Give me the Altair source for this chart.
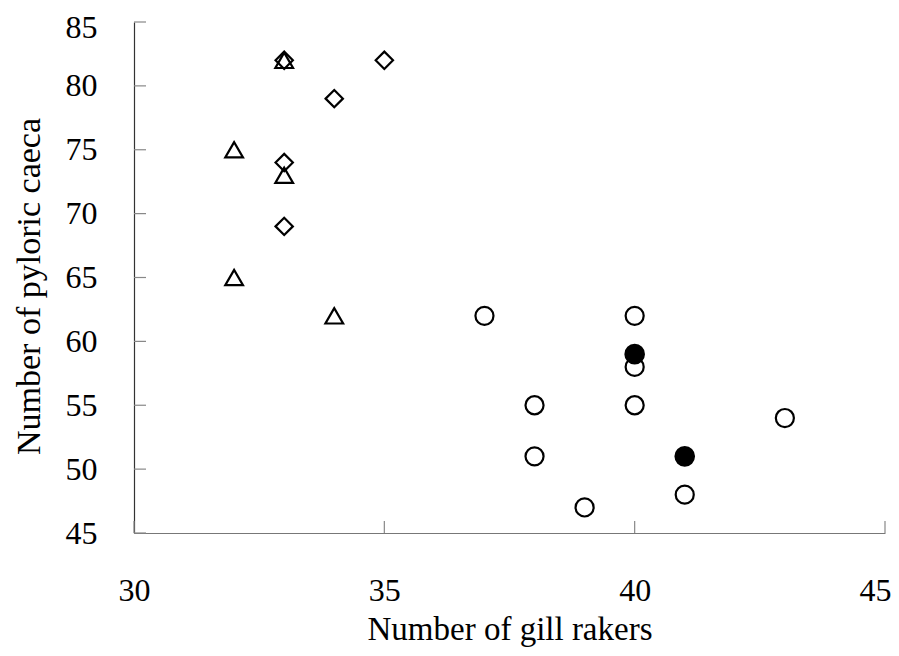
import altair as alt
import pandas as pd

# Data
diamond_x = [33, 35, 34, 33, 33]
diamond_y = [82, 82, 79, 74, 69]
triangle_x = [33, 32, 33, 32, 34]
triangle_y = [82, 75, 73, 65, 62]
open_x = [37, 40, 40, 38, 40, 43, 38, 41, 39]
open_y = [62, 62, 58, 55, 55, 54, 51, 48, 47]
filled_x = [40, 41]
filled_y = [59, 51]
x_ticks = [30, 35, 40, 45]
y_ticks = [45, 50, 55, 60, 65, 70, 75, 80, 85]
groups = ["diamond", "triangle", "open", "filled"]

rows = []
for g, xs, ys in [("diamond", diamond_x, diamond_y),
                  ("triangle", triangle_x, triangle_y),
                  ("open", open_x, open_y),
                  ("filled", filled_x, filled_y)]:
    for a, b in zip(xs, ys):
        rows.append({"x": a, "y": b, "group": g})
df = pd.DataFrame(rows)

FONT = "Liberation Serif"
xscale = alt.Scale(domain=[30, 45], nice=False, zero=False)
yscale = alt.Scale(domain=[45, 85], nice=False, zero=False)

xaxis = alt.Axis(
    values=x_ticks, ticks=False, tickSize=0, labelPadding=42, grid=False,
    labelFlush=False, labelOffset={"expr": "datum.value == 45 ? -10 : 0"},
    title="Number of gill rakers", titleY=106, titleFontSize=33,
    titleBaseline="alphabetic", domainColor="#777777", domainWidth=1.2)
yaxis = alt.Axis(
    values=y_ticks, ticks=False, tickSize=0, labelPadding=37, grid=False,
    labelFlush=False, labelOffset={"expr": "datum.value == 85 ? 5 : 0"},
    title="Number of pyloric caeca", titleX=-95, titleY=264, titleFontSize=34,
    titleBaseline="alphabetic", domainColor="#333333", domainWidth=1.2)

points = alt.Chart(df).mark_point(strokeWidth=2.2, opacity=1).encode(
    x=alt.X("x:Q", scale=xscale, axis=xaxis),
    y=alt.Y("y:Q", scale=yscale, axis=yaxis),
    shape=alt.Shape("group:N", scale=alt.Scale(domain=groups,
                    range=["diamond", "triangle-up", "circle", "circle"]), legend=None),
    size=alt.Size("group:N", scale=alt.Scale(domain=groups, range=[300, 340, 324, 324]),
                  legend=None),
    fill=alt.Fill("group:N", scale=alt.Scale(domain=groups,
                  range=["transparent", "transparent", "transparent", "black"]), legend=None),
    stroke=alt.value("black"),
)

xt = pd.DataFrame({"v": x_ticks})
yt = pd.DataFrame({"v": y_ticks})

xtick_rules = alt.Chart(xt).mark_rule(color="#888888", strokeWidth=1.2).encode(
    x=alt.X("v:Q", scale=xscale, axis=xaxis),
    y=alt.value(511), y2=alt.value(499),
)
ytick_rules = alt.Chart(yt).mark_rule(color="#888888", strokeWidth=1.2).encode(
    y=alt.Y("v:Q", scale=yscale, axis=yaxis),
    x=alt.value(0), x2=alt.value(12),
)

chart = alt.layer(points, xtick_rules, ytick_rules).properties(
    width=751, height=511,
    autosize=alt.AutoSizeParams(type="none"),
    padding={"left": 126, "top": 14, "right": 6, "bottom": 115},
).configure_axis(
    labelFont=FONT, labelFontSize=32, labelColor="black",
    titleFont=FONT, titleFontWeight="normal", titleColor="black",
).configure_view(strokeWidth=0)

chart.save("out.html", embed_options={"renderer": "svg", "actions": False})
